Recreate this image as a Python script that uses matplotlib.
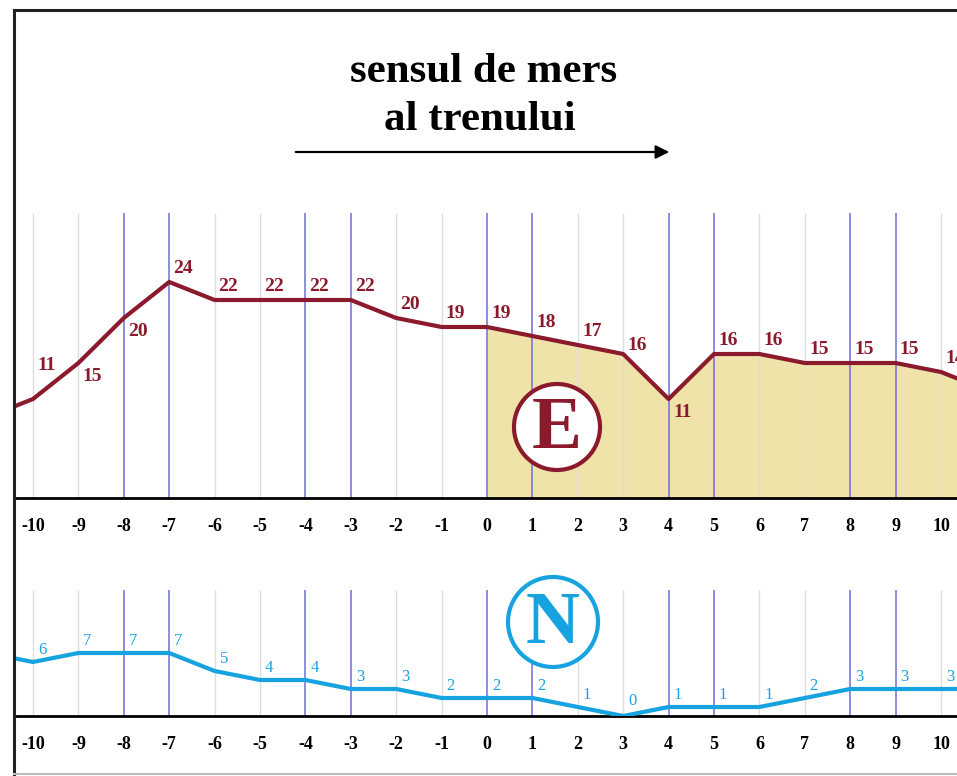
import matplotlib
matplotlib.use("Agg")
import matplotlib.pyplot as plt
from matplotlib.patches import Circle

plt.rcParams['font.family'] = ['Liberation Serif', 'DejaVu Serif']

# pozitii (x=-11 si x=11 sunt in afara cadrului, doar ca linia sa ajunga la margini)
pozitii = [-11, -10, -9, -8, -7, -6, -5, -4, -3, -2, -1, 0, 1, 2, 3, 4, 5, 6, 7, 8, 9, 10, 11]
valori_E = [9, 11, 15, 20, 24, 22, 22, 22, 22, 20, 19, 19, 18, 17, 16, 11, 16, 16, 15, 15, 15, 14, 12]
valori_N = [7, 6, 7, 7, 7, 5, 4, 4, 3, 3, 2, 2, 2, 1, 0, 1, 1, 1, 2, 3, 3, 3, 3]
etichete_x = list(range(-10, 11))
linii_albastre = [-8, -7, -4, -3, 0, 1, 4, 5, 8, 9]

ROSU = '#8A1A2C'
ALBASTRU = '#17A3E0'
BEJ = '#EFE3AA'
MOV = '#6E6EDC'
GRI = '#DCDCE0'

W, H = 957, 776
fig = plt.figure(figsize=(W / 100, H / 100), dpi=100)

px = 45.4  # pixeli pe unitate pe axa x
xl = (-10 + (14 - 33) / px, -10 + (957 - 33) / px)

ax_e = fig.add_axes([14 / W, 1 - 498 / H, 943 / W, 488 / H])
ax_n = fig.add_axes([14 / W, 1 - 716 / H, 943 / W, 156 / H])

for ax, top_grid in ((ax_e, 31.7), (ax_n, 14)):
    ax.set_xlim(*xl)
    for s in ('top', 'right', 'left'):
        ax.spines[s].set_visible(False)
    ax.spines['bottom'].set_linewidth(2)
    ax.set_yticks([])
    ax.set_xticks(etichete_x)
    ax.set_xticklabels([str(v) for v in etichete_x], fontsize=13, fontweight='bold')
    ax.tick_params(axis='x', length=0, pad=14.5)
    gri = [v for v in etichete_x if v not in linii_albastre]
    ax.vlines(gri, 0, top_grid, color=GRI, lw=1, zorder=2)
    ax.vlines(linii_albastre, 0, top_grid, color=MOV, lw=1.1, zorder=2)
    ax.patch.set_alpha(0)

ax_e.set_ylim(0, 488 / 9)
ax_n.set_ylim(0, 156 / 9)

# curba E cu zona hasurata de la 0 spre dreapta
ax_e.fill_between(pozitii, valori_E, 0, where=[p >= 0 for p in pozitii],
                  color=BEJ, lw=0, zorder=1)
ax_e.plot(pozitii, valori_E, color=ROSU, lw=3, solid_joinstyle='round', zorder=3)
dy_E = {-10: 24, -9: -10, -8: -10, 3: 6, 4: -10}
for p, v in zip(pozitii, valori_E):
    if p in etichete_x:
        ax_e.annotate(str(v), (p, v), xytext=(10, dy_E.get(p, 9.5)),
                      textcoords='offset points', ha='center', va='center',
                      color=ROSU, fontsize=14, fontweight='bold', zorder=4)

# curba N
ax_n.plot(pozitii, valori_N, color=ALBASTRU, lw=3, solid_joinstyle='round', zorder=3)
for p, v in zip(pozitii, valori_N):
    if p in etichete_x:
        ax_n.annotate(str(v), (p, v), xytext=(6.5, 11 if v == 0 else 8.5),
                      textcoords='offset points', ha='center', va='center',
                      color=ALBASTRU, fontsize=12, zorder=4)

# strat de desen in pixeli: chenar, titlu, sageata, cercuri
ov = fig.add_axes([0, 0, 1, 1], zorder=5)
ov.set_xlim(0, W)
ov.set_ylim(H, 0)
ov.axis('off')
ov.patch.set_alpha(0)

ov.plot([14, 14], [10, H], color='#222222', lw=2.2, solid_capstyle='projecting')
ov.plot([14, W], [10, 10], color='#222222', lw=2.2, solid_capstyle='projecting')
ov.plot([14, W], [774, 774], color='#BBBBBB', lw=1.5)

ov.text(484, 72, 'sensul de mers', ha='center', va='center',
        fontsize=31, fontweight='bold')
ov.text(480, 120, 'al trenului', ha='center', va='center',
        fontsize=31, fontweight='bold')
ov.annotate('', xy=(672, 152), xytext=(293, 152),
            arrowprops=dict(arrowstyle='-|>', lw=1.6, color='black', mutation_scale=20))

ov.add_patch(Circle((557, 427), 43, facecolor='white', edgecolor=ROSU, lw=3))
ov.text(557, 430, 'E', ha='center', va='center', color=ROSU, fontsize=54, fontweight='bold')
ov.add_patch(Circle((553, 622), 45, facecolor='white', edgecolor=ALBASTRU, lw=3))
ov.text(553, 625, 'N', ha='center', va='center', color=ALBASTRU, fontsize=54, fontweight='bold')

fig.savefig('out.png', dpi=100)
